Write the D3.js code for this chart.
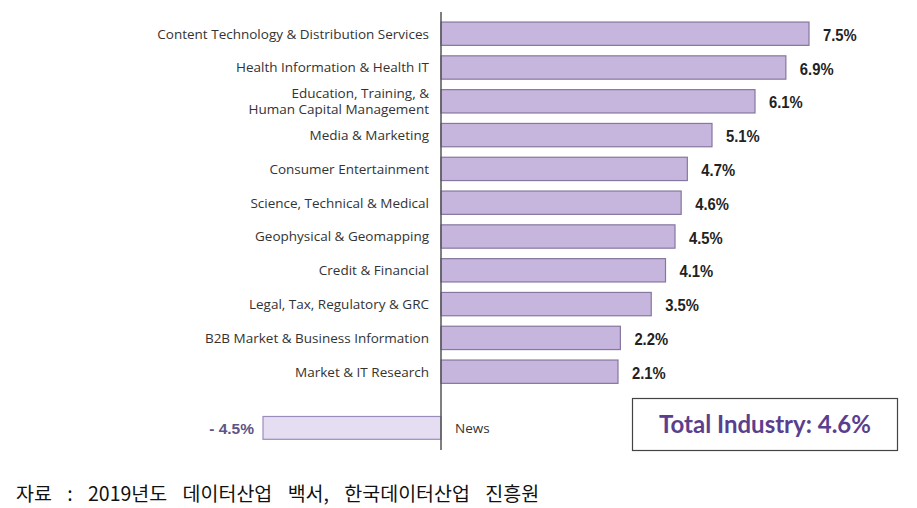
<!DOCTYPE html>
<html><head><meta charset="utf-8">
<script src="https://cdn.jsdelivr.net/npm/d3@7"></script>
<style>html,body{margin:0;padding:0;background:#fff;}svg{display:block;}</style>
</head><body><svg id="c" width="917" height="508"></svg>
<script>
const categories = [
  "Content Technology & Distribution Services",
  "Health Information & Health IT",
  "Education, Training, &\nHuman Capital Management",
  "Media & Marketing",
  "Consumer Entertainment",
  "Science, Technical & Medical",
  "Geophysical & Geomapping",
  "Credit & Financial",
  "Legal, Tax, Regulatory & GRC",
  "B2B Market & Business Information",
  "Market & IT Research"
];
const growth = [7.5, 6.9, 6.1, 5.1, 4.7, 4.6, 4.5, 4.1, 3.5, 2.2, 2.1];
const newsLabel = "News";
const newsValue = -4.5;
const totalLabel = "Total Industry: 4.6%";
const sourceNote = "자료 : 2019년도 데이터산업 백서, 한국데이터산업 진흥원";

const svg = d3.select("#c");

// The source picture's bar lengths are not proportional; a polylinear scale follows them.
const x = d3.scaleLinear()
  .domain([-4.5, 0, 2.1, 4.5, 5.1, 6.1, 7.5])
  .range([263, 441, 618, 675, 712, 755, 809]);

const y = d3.scaleBand()
  .domain(categories)
  .range([16.8, 16.8 + 11 * 33.8])
  .paddingInner(0.31)
  .paddingOuter(0.155);

const data = categories.map((c, i) => ({c, v: growth[i]}));

// bars
svg.append("g").selectAll("rect").data(data).join("rect")
  .attr("x", x(0))
  .attr("y", d => y(d.c))
  .attr("width", d => x(d.v) - x(0))
  .attr("height", y.bandwidth())
  .attr("fill", "#c6b6dd")
  .attr("stroke", "#85779f")
  .attr("stroke-width", 1.2);

// value labels (condensed look)
svg.append("g").selectAll("text").data(data).join("text")
  .attr("transform", d => `translate(${x(d.v) + 14},${y(d.c) + y.bandwidth() / 2 + 1}) scale(0.87,1)`)
  .attr("dy", "0.36em")
  .attr("font-family", "'Liberation Sans',Arial,sans-serif")
  .attr("font-weight", "bold")
  .attr("font-size", 17)
  .attr("fill", "#222")
  .text(d => d.v.toFixed(1) + "%");

// category labels
const lab = svg.append("g").selectAll("text").data(data).join("text")
  .attr("text-anchor", "end")
  .attr("font-family", "'Open Sans',sans-serif")
  .attr("font-size", 13.5)
  .attr("fill", "#333")
  .attr("y", d => y(d.c) + y.bandwidth() / 2);
lab.each(function(d) {
  const lines = d.c.split("\n");
  const t = d3.select(this);
  lines.forEach((ln, k) => {
    t.append("tspan")
      .attr("x", 429)
      .attr("dy", k === 0 ? (0.36 - (lines.length - 1) * 0.6) + "em" : "1.2em")
      .text(ln);
  });
});

// news bar
const newsY = y(categories[categories.length - 1]) + y.step() * 1.67;
svg.append("rect")
  .attr("x", x(newsValue))
  .attr("y", newsY)
  .attr("width", x(0) - x(newsValue))
  .attr("height", y.bandwidth() - 0.5)
  .attr("fill", "#e5def2")
  .attr("stroke", "#9a8dbb")
  .attr("stroke-width", 1.2);
svg.append("text")
  .attr("transform", `translate(${x(newsValue) - 9},${newsY + y.bandwidth() / 2})`)
  .attr("dy", "0.36em")
  .attr("text-anchor", "end")
  .attr("font-family", "'Liberation Sans',Arial,sans-serif")
  .attr("font-weight", "bold")
  .attr("font-size", 15.5)
  .attr("fill", "#5d5585")
  .text("- " + Math.abs(newsValue).toFixed(1) + "%");
svg.append("text")
  .attr("x", x(0) + 14)
  .attr("y", newsY + y.bandwidth() / 2)
  .attr("dy", "0.36em")
  .attr("font-family", "'Open Sans',sans-serif")
  .attr("font-size", 13.5)
  .attr("fill", "#333")
  .text(newsLabel);

// zero axis
svg.append("line")
  .attr("x1", x(0)).attr("x2", x(0))
  .attr("y1", 12).attr("y2", 450)
  .attr("stroke", "#555").attr("stroke-width", 1.5);

// total box
svg.append("rect")
  .attr("x", 632.5).attr("y", 398.5).attr("width", 265).attr("height", 52)
  .attr("fill", "#fff").attr("stroke", "#444").attr("stroke-width", 1.2);
svg.append("text")
  .attr("x", 765).attr("y", 424.5).attr("dy", "0.36em")
  .attr("text-anchor", "middle")
  .attr("font-family", "Lato,'Open Sans',sans-serif")
  .attr("font-weight", "bold")
  .attr("font-size", 24)
  .attr("fill", "#5b3f8e")
  .text(totalLabel);

// source note
svg.append("text")
  .attr("x", 16).attr("y", 494).attr("dy", "0.36em")
  .attr("font-family", "'Noto Sans CJK KR',sans-serif")
  .attr("font-size", 19.5)
  .attr("word-spacing", 11)
  .attr("fill", "#111")
  .text(sourceNote);
</script></body></html>
